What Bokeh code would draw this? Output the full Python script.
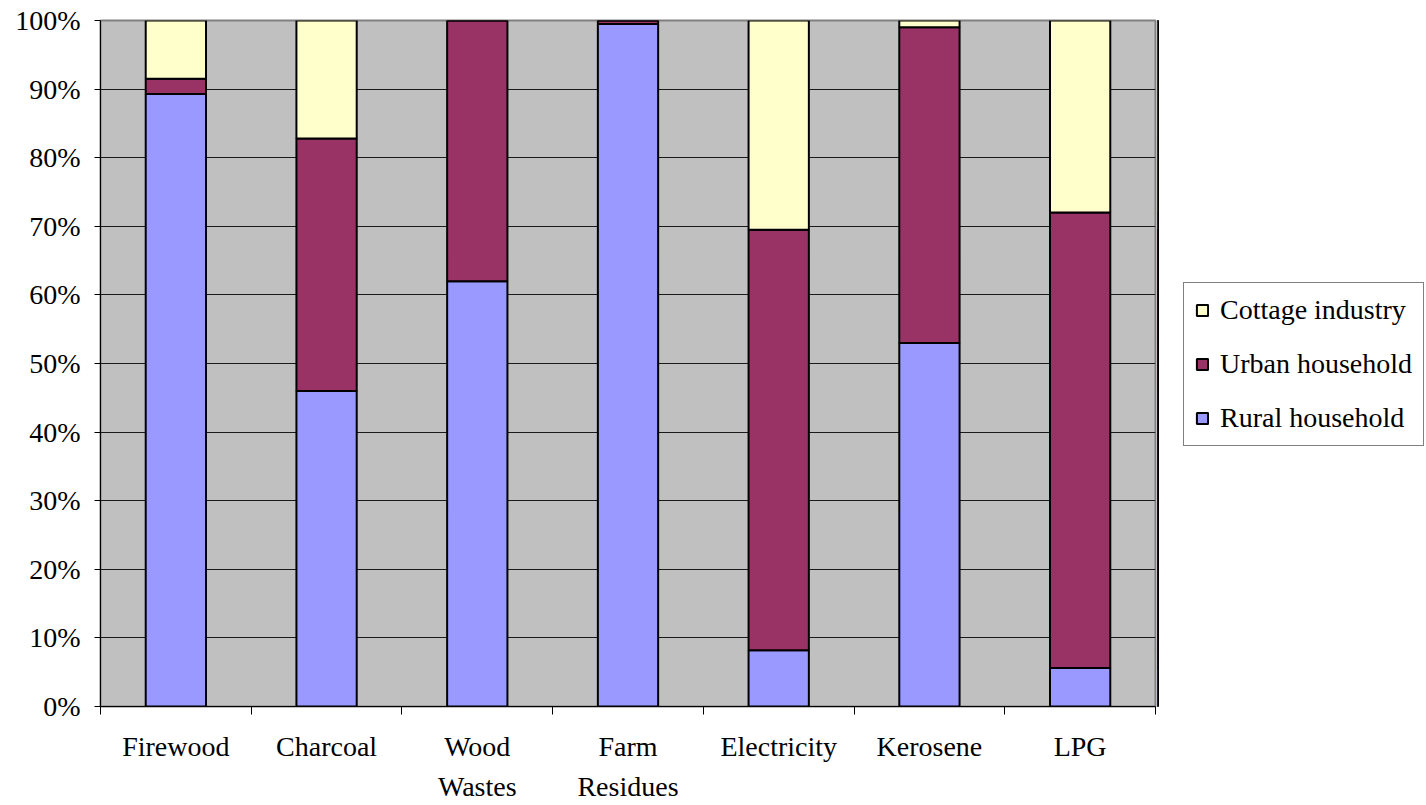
from bokeh.plotting import figure
from bokeh.models import (ColumnDataSource, Range1d, FixedTicker, PrintfTickFormatter,
                          Legend, LegendItem)
from bokeh.layouts import row
from bokeh.embed import file_html
from bokeh.resources import INLINE

categories = ["Firewood", "Charcoal", "Wood\nWastes", "Farm\nResidues", "Electricity", "Kerosene", "LPG"]
rural = [89.3, 46.0, 62.0, 99.5, 8.2, 53.0, 5.6]
urban = [2.2, 36.8, 38.0, 0.5, 61.3, 46.0, 66.4]
cottage = [8.5, 17.2, 0.0, 0.0, 30.5, 1.0, 28.0]
series = ["Rural household", "Urban household", "Cottage industry"]
colors = ["#9999FF", "#993366", "#FFFFCC"]
y_ticks = [0, 10, 20, 30, 40, 50, 60, 70, 80, 90, 100]

xs = [i + 0.5 for i in range(len(categories))]
source = ColumnDataSource(dict(x=xs, rural=rural, urban=urban, cottage=cottage))
stackers = ["rural", "urban", "cottage"]

FONT = "Liberation Serif"
FS = "28px"

p = figure(width=1157, height=805, output_backend="svg", toolbar_location=None,
           x_range=Range1d(0, len(categories)), y_range=Range1d(0, 100),
           min_border_left=100, min_border_right=2, min_border_top=20, min_border_bottom=99)

p.background_fill_color = "#C0C0C0"
p.border_fill_color = "white"
p.outline_line_color = "#808080"
p.outline_line_width = 2

renderers = p.vbar_stack(stackers, x="x", width=0.4, source=source,
                         fill_color=colors, line_color="black", line_width=2)

# grid
p.xgrid.grid_line_color = None
p.ygrid.grid_line_color = "#1a1a1a"
p.ygrid.grid_line_width = 1
p.ygrid.ticker = FixedTicker(ticks=y_ticks)

# y axis
p.yaxis.ticker = FixedTicker(ticks=y_ticks)
p.yaxis.formatter = PrintfTickFormatter(format="%d%%")
p.yaxis.major_label_text_font = FONT
p.yaxis.major_label_text_font_size = FS
p.yaxis.major_label_text_color = "black"
p.yaxis.major_tick_out = 6
p.yaxis.major_tick_in = 0
p.yaxis.minor_tick_line_color = None
p.yaxis.axis_line_color = "black"
p.yaxis.major_tick_line_color = "black"
p.yaxis.major_label_standoff = 14

# x axis
p.xaxis.ticker = FixedTicker(ticks=xs, minor_ticks=list(range(len(categories) + 1)))
p.xaxis.major_label_overrides = {x: c for x, c in zip(xs, categories)}
p.xaxis.major_label_text_font = FONT
p.xaxis.major_label_text_font_size = FS
p.xaxis.major_label_text_color = "black"
p.xaxis.major_label_text_line_height = 1.32
p.xaxis.major_tick_line_color = None
p.xaxis.major_tick_out = 8
p.xaxis.major_tick_in = 0
p.xaxis.minor_tick_line_color = "black"
p.xaxis.minor_tick_out = 8
p.xaxis.minor_tick_in = 0
p.xaxis.axis_line_color = "black"
p.xaxis.major_label_standoff = 16

# legend panel (separate white canvas to the right of the chart); its bars lie
# outside its visible range, only the legend keys show
lg = figure(width=269, height=805, output_backend="svg", toolbar_location=None,
            x_axis_type=None, y_axis_type=None,
            x_range=Range1d(100, 101), y_range=Range1d(0, 100), min_border=0)
lg.background_fill_color = "white"
lg.border_fill_color = "white"
lg.outline_line_color = None
lg.outline_line_alpha = 0
lg.xgrid.grid_line_color = None
lg.ygrid.grid_line_color = None

key_renderers = lg.vbar_stack(stackers, x="x", width=0.4, source=source,
                              fill_color=colors, line_color="black", line_width=2)
items = [LegendItem(label=s, renderers=[r]) for s, r in zip(series, key_renderers)][::-1]
legend = Legend(items=items, location=(26, 260))
legend.label_text_font = FONT
legend.label_text_font_size = "28px"
legend.label_text_color = "black"
legend.glyph_width = 14
legend.glyph_height = 14
legend.label_standoff = 11
legend.spacing = 22
legend.padding = 11
legend.margin = 0
legend.border_line_color = "black"
legend.border_line_width = 1
legend.background_fill_color = "white"
legend.background_fill_alpha = 1
lg.add_layout(legend, "center")

layout = row(p, lg, spacing=0)
open("out.html", "w").write(file_html(layout, INLINE))
